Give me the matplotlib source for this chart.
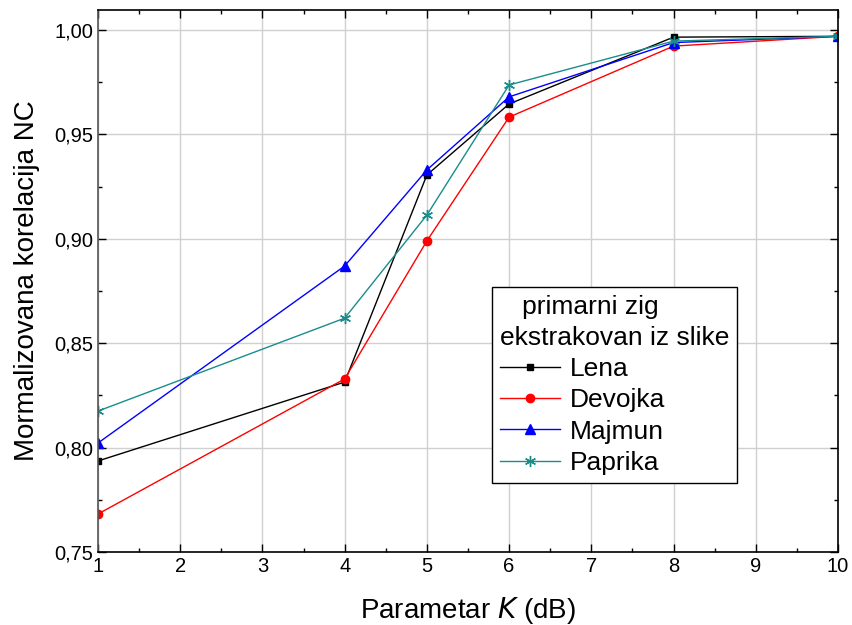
import matplotlib
matplotlib.use("Agg")
import matplotlib.pyplot as plt
from matplotlib.ticker import MultipleLocator, FuncFormatter

plt.rcParams['font.family'] = ['Liberation Sans', 'DejaVu Sans']

x = [1, 4, 5, 6, 8, 10]
lena = [0.7936, 0.8314, 0.9306, 0.9646, 0.9966, 0.9970]
devojka = [0.7682, 0.8329, 0.8990, 0.9583, 0.9923, 0.9970]
majmun = [0.8022, 0.8870, 0.9330, 0.9680, 0.9940, 0.9970]
paprika = [0.8175, 0.8620, 0.9114, 0.9737, 0.9947, 0.9970]
names = ["Lena", "Devojka", "Majmun", "Paprika"]
legend_title = "   primarni zig\nekstrakovan iz slike"

fig = plt.figure(figsize=(8.53, 6.25), dpi=100)
ax = fig.add_axes([0.1149, 0.1168, 0.8675, 0.8672])

ax.plot(x, lena, color='black', lw=1, marker='s', ms=5, label=names[0])
ax.plot(x, devojka, color='red', lw=1, marker='o', ms=6, label=names[1])
ax.plot(x, majmun, color='blue', lw=1, marker='^', ms=7, label=names[2])
ax.plot(x, paprika, color='#1a8c8c', lw=1, marker=(6, 2, 0), ms=8, mew=1, label=names[3])

ax.set_xlim(1, 10)
ax.set_ylim(0.75, 1.0096)
ax.xaxis.set_major_locator(MultipleLocator(1))
ax.xaxis.set_minor_locator(MultipleLocator(0.5))
ax.yaxis.set_major_locator(MultipleLocator(0.05))
ax.yaxis.set_minor_locator(MultipleLocator(0.025))
ax.yaxis.set_major_formatter(FuncFormatter(lambda v, p: f"{v:.2f}".replace('.', ',')))
ax.grid(True, which='major', color='#d0d0d0', lw=1)
ax.set_axisbelow(True)
ax.tick_params(which='both', direction='in', top=True, right=True, labelsize=14.5)
ax.tick_params(which='major', length=6, width=1)
ax.tick_params(which='minor', length=3, width=1)
for s in ax.spines.values():
    s.set_linewidth(1.2)
ax.spines['left'].set_color('#555555')

ax.set_xlabel("Parametar $K$ (dB)", fontsize=20, labelpad=14)
ax.set_ylabel("Mormalizovana korelacija NC", fontsize=20, labelpad=10)

leg = ax.legend(title=legend_title, fontsize=19, title_fontsize=19,
                loc='upper left', bbox_to_anchor=(0.532, 0.489),
                fancybox=False, edgecolor='black', framealpha=1,
                handlelength=2.3, borderpad=0.3, labelspacing=0.28,
                handletextpad=0.35, borderaxespad=0)
leg.get_frame().set_linewidth(1)
leg.get_title().set_linespacing(1.35)
leg._legend_box.align = 'left'

fig.savefig("out.png", dpi=100)
